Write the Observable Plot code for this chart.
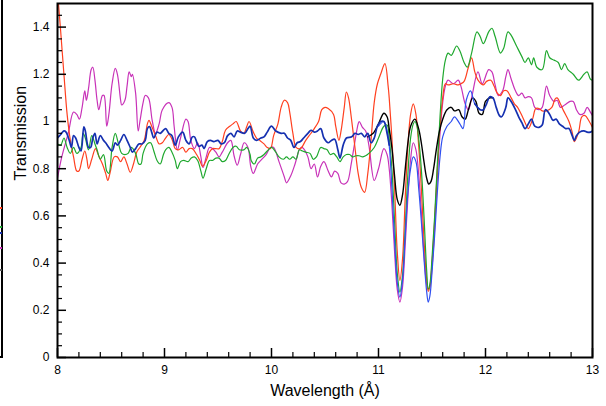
<!DOCTYPE html>
<html>
<head>
<meta charset="utf-8">
<script src="https://cdn.jsdelivr.net/npm/d3@7"></script>
<script src="https://cdn.jsdelivr.net/npm/@observablehq/plot@0.6"></script>
<style>
  html, body { margin: 0; padding: 0; background: #fff; }
  #wrap { position: relative; width: 606px; height: 406px; }
  #wrap svg { display: block; }
  .edge { position: absolute; }
</style>
</head>
<body>
<div id="wrap">
  <div class="edge" style="left:1px;top:0;width:2px;height:358px;background:#000"></div>
  <div class="edge" style="left:0;top:356px;width:3px;height:2px;background:#000"></div>
  <div class="edge" style="left:0;top:207px;width:2px;height:2px;background:#ff4020"></div>
  <div class="edge" style="left:0;top:226px;width:2px;height:2px;background:#22aa33"></div>
  <div class="edge" style="left:0;top:232px;width:2px;height:2px;background:#1530b0"></div>
  <div class="edge" style="left:0;top:247px;width:2px;height:2px;background:#c832b8"></div>
  <div class="edge" style="left:0;top:269px;width:2px;height:2px;background:#555"></div>
</div>
<script>
// ---- data: [wavelength (Å), transmission] ----
const magenta = [[8.00,0.76],[8.04,0.85],[8.10,0.95],[8.15,1.04],[8.18,1.03],[8.205,1.01],[8.23,1.06],[8.255,1.13],[8.27,1.09],[8.29,1.14],[8.315,1.22],[8.33,1.23],[8.35,1.175],[8.37,1.09],[8.386,1.05],[8.42,1.11],[8.435,1.11],[8.46,0.98],[8.48,1.03],[8.51,1.16],[8.54,1.225],[8.56,1.20],[8.59,1.09],[8.60,1.07],[8.63,1.09],[8.65,1.15],[8.67,1.21],[8.69,1.19],[8.70,1.20],[8.73,1.12],[8.754,0.96],[8.77,1.00],[8.80,1.08],[8.82,1.11],[8.85,1.10],[8.885,1.005],[8.916,0.95],[8.95,0.99],[8.98,1.05],[9.04,1.08],[9.07,1.06],[9.09,0.98],[9.12,0.88],[9.15,0.93],[9.20,1.01],[9.22,1.00],[9.246,0.92],[9.28,0.885],[9.31,0.91],[9.34,0.85],[9.36,0.805],[9.39,0.85],[9.42,0.89],[9.45,0.885],[9.48,0.87],[9.51,0.85],[9.54,0.87],[9.59,0.91],[9.62,0.92],[9.65,0.855],[9.68,0.815],[9.71,0.86],[9.745,0.91],[9.78,0.89],[9.806,0.81],[9.83,0.78],[9.87,0.82],[9.90,0.835],[9.95,0.86],[9.99,0.89],[10.02,0.89],[10.07,0.83],[10.12,0.765],[10.14,0.74],[10.18,0.77],[10.22,0.82],[10.26,0.88],[10.28,0.89],[10.30,0.885],[10.34,0.85],[10.37,0.80],[10.40,0.82],[10.43,0.765],[10.46,0.81],[10.49,0.83],[10.53,0.79],[10.56,0.765],[10.59,0.79],[10.62,0.78],[10.65,0.74],[10.68,0.735],[10.71,0.745],[10.745,0.82],[10.776,0.905],[10.81,0.99],[10.82,1.00],[10.85,0.975],[10.88,0.96],[10.91,0.90],[10.96,0.75],[11.00,0.80],[11.05,0.885],[11.08,0.86],[11.10,0.80],[11.125,0.65],[11.15,0.45],[11.175,0.29],[11.20,0.235],[11.225,0.30],[11.25,0.48],[11.275,0.68],[11.30,0.84],[11.325,0.91],[11.35,0.88],[11.375,0.78],[11.40,0.62],[11.425,0.44],[11.45,0.31],[11.465,0.29],[11.48,0.30],[11.50,0.38],[11.525,0.55],[11.55,0.76],[11.575,0.95],[11.60,1.08],[11.625,1.15],[11.65,1.175],[11.70,1.16],[11.745,1.175],[11.77,1.15],[11.81,1.075],[11.84,1.05],[11.87,1.10],[11.93,1.21],[11.97,1.16],[12.03,1.22],[12.06,1.21],[12.09,1.155],[12.12,1.11],[12.16,1.13],[12.19,1.19],[12.21,1.22],[12.24,1.18],[12.28,1.13],[12.31,1.11],[12.34,1.12],[12.37,1.10],[12.40,1.105],[12.43,1.10],[12.46,1.06],[12.50,1.05],[12.53,1.06],[12.57,1.15],[12.60,1.11],[12.64,1.085],[12.67,1.09],[12.70,1.06],[12.74,1.07],[12.79,1.085],[12.82,1.085],[12.85,1.05],[12.88,1.03],[12.92,1.035],[12.95,1.06],[12.98,1.04],[13.00,1.025]];

const red = [[8.00,1.55],[8.03,1.38],[8.06,1.20],[8.09,1.03],[8.12,0.92],[8.15,0.85],[8.18,0.79],[8.20,0.79],[8.23,0.84],[8.255,0.875],[8.275,0.84],[8.29,0.80],[8.32,0.84],[8.355,0.885],[8.38,0.86],[8.42,0.82],[8.45,0.78],[8.47,0.75],[8.49,0.78],[8.53,0.85],[8.56,0.85],[8.59,0.83],[8.62,0.85],[8.65,0.82],[8.68,0.785],[8.71,0.82],[8.74,0.87],[8.77,0.89],[8.81,0.92],[8.84,0.99],[8.855,1.005],[8.88,0.98],[8.92,0.935],[8.95,0.905],[8.98,0.91],[9.01,0.93],[9.04,0.945],[9.07,0.925],[9.10,0.885],[9.13,0.88],[9.17,0.89],[9.20,0.87],[9.23,0.885],[9.26,0.885],[9.30,0.86],[9.33,0.835],[9.355,0.81],[9.39,0.835],[9.42,0.87],[9.45,0.885],[9.48,0.885],[9.51,0.885],[9.54,0.915],[9.57,0.963],[9.61,0.98],[9.64,0.99],[9.67,1.0],[9.71,0.96],[9.74,0.95],[9.77,0.98],[9.79,1.0],[9.83,0.955],[9.86,0.93],[9.89,0.92],[9.93,0.905],[9.96,0.89],[9.99,0.885],[10.02,0.94],[10.06,0.99],[10.09,1.06],[10.12,1.09],[10.15,1.08],[10.17,1.04],[10.20,0.95],[10.23,0.89],[10.27,0.885],[10.32,0.92],[10.36,0.945],[10.40,0.97],[10.44,1.0],[10.47,1.05],[10.50,1.06],[10.53,1.055],[10.58,1.03],[10.60,0.98],[10.63,0.92],[10.65,0.96],[10.68,1.06],[10.70,1.125],[10.72,1.10],[10.745,1.02],[10.78,0.89],[10.81,0.78],[10.84,0.72],[10.87,0.70],[10.90,0.78],[10.93,0.92],[10.96,1.08],[10.99,1.16],[11.02,1.20],[11.06,1.245],[11.09,1.15],[11.10,1.10],[11.125,0.93],[11.15,0.72],[11.175,0.45],[11.20,0.327],[11.225,0.42],[11.25,0.68],[11.275,0.90],[11.30,1.03],[11.325,1.075],[11.35,1.03],[11.375,0.90],[11.40,0.72],[11.425,0.50],[11.45,0.33],[11.465,0.28],[11.48,0.30],[11.50,0.40],[11.525,0.58],[11.55,0.80],[11.575,0.98],[11.60,1.10],[11.625,1.16],[11.65,1.155],[11.70,1.16],[11.745,1.155],[11.77,1.16],[11.80,1.17],[11.84,1.23],[11.87,1.27],[11.90,1.21],[11.93,1.175],[11.98,1.155],[12.01,1.17],[12.05,1.175],[12.08,1.15],[12.11,1.12],[12.14,1.11],[12.17,1.13],[12.20,1.13],[12.24,1.10],[12.27,1.075],[12.30,1.06],[12.34,1.025],[12.37,0.995],[12.40,0.97],[12.44,1.01],[12.47,1.055],[12.50,1.055],[12.53,1.045],[12.57,1.045],[12.62,1.06],[12.65,1.095],[12.67,1.10],[12.70,1.075],[12.73,1.045],[12.78,1.0],[12.81,0.955],[12.83,0.915],[12.87,0.955],[12.90,1.02],[12.93,1.025],[12.97,1.0],[13.00,0.975]];

const green = [[8.00,0.905],[8.03,0.90],[8.06,0.93],[8.09,0.89],[8.12,0.865],[8.15,0.89],[8.18,0.865],[8.22,0.89],[8.24,0.95],[8.26,0.93],[8.29,0.88],[8.32,0.94],[8.35,0.905],[8.37,0.88],[8.40,0.84],[8.43,0.86],[8.46,0.79],[8.48,0.78],[8.51,0.89],[8.54,0.95],[8.57,0.905],[8.60,0.865],[8.63,0.86],[8.66,0.865],[8.69,0.89],[8.73,0.865],[8.76,0.82],[8.78,0.82],[8.80,0.865],[8.84,0.905],[8.87,0.91],[8.90,0.875],[8.93,0.835],[8.96,0.82],[8.99,0.86],[9.01,0.88],[9.04,0.89],[9.07,0.87],[9.10,0.835],[9.12,0.80],[9.15,0.83],[9.18,0.835],[9.22,0.83],[9.25,0.845],[9.28,0.85],[9.31,0.835],[9.34,0.79],[9.36,0.76],[9.39,0.80],[9.42,0.835],[9.45,0.835],[9.48,0.845],[9.51,0.845],[9.54,0.83],[9.57,0.835],[9.60,0.86],[9.64,0.89],[9.67,0.895],[9.70,0.88],[9.74,0.88],[9.77,0.89],[9.80,0.86],[9.81,0.835],[9.84,0.82],[9.87,0.845],[9.90,0.85],[9.93,0.86],[9.96,0.875],[10.00,0.89],[10.04,0.87],[10.07,0.85],[10.11,0.84],[10.14,0.85],[10.17,0.84],[10.20,0.85],[10.23,0.84],[10.26,0.88],[10.29,0.875],[10.32,0.87],[10.36,0.865],[10.39,0.84],[10.42,0.85],[10.46,0.89],[10.49,0.885],[10.52,0.88],[10.55,0.86],[10.58,0.865],[10.61,0.85],[10.64,0.83],[10.67,0.85],[10.70,0.86],[10.73,0.86],[10.76,0.85],[10.79,0.855],[10.82,0.855],[10.85,0.85],[10.88,0.855],[10.91,0.865],[10.96,0.89],[11.00,0.93],[11.05,0.98],[11.08,0.985],[11.10,0.93],[11.125,0.80],[11.15,0.58],[11.175,0.36],[11.20,0.277],[11.225,0.35],[11.25,0.55],[11.275,0.78],[11.30,0.93],[11.325,0.99],[11.34,1.0],[11.36,0.98],[11.375,0.93],[11.40,0.80],[11.425,0.60],[11.45,0.37],[11.465,0.29],[11.48,0.31],[11.50,0.42],[11.525,0.60],[11.55,0.82],[11.575,1.02],[11.60,1.18],[11.625,1.26],[11.65,1.29],[11.68,1.28],[11.73,1.32],[11.76,1.30],[11.80,1.25],[11.83,1.23],[11.87,1.29],[11.92,1.38],[11.95,1.36],[11.98,1.33],[12.03,1.38],[12.06,1.395],[12.09,1.36],[12.14,1.29],[12.17,1.31],[12.21,1.38],[12.24,1.365],[12.29,1.32],[12.34,1.275],[12.37,1.25],[12.40,1.27],[12.43,1.24],[12.45,1.27],[12.48,1.23],[12.53,1.22],[12.57,1.30],[12.60,1.27],[12.64,1.26],[12.68,1.25],[12.71,1.22],[12.74,1.245],[12.77,1.22],[12.82,1.20],[12.87,1.175],[12.92,1.20],[12.95,1.21],[12.98,1.18],[13.00,1.175]];

const black = [[10.90,0.935],[10.95,0.95],[11.00,0.99],[11.05,1.035],[11.08,1.02],[11.10,0.97],[11.125,0.89],[11.15,0.77],[11.175,0.67],[11.20,0.645],[11.225,0.69],[11.25,0.80],[11.275,0.91],[11.30,0.98],[11.34,1.01],[11.375,0.97],[11.40,0.91],[11.425,0.83],[11.45,0.76],[11.47,0.735],[11.49,0.745],[11.515,0.80],[11.54,0.88],[11.57,0.96],[11.60,1.01],[11.64,1.05],[11.68,1.06],[11.71,1.045],[11.75,1.05],[11.78,1.02],[11.81,1.01],[11.84,1.05],[11.88,1.10],[11.91,1.085],[11.94,1.035],[11.97,1.03],[12.00,1.085],[12.04,1.10],[12.07,1.10]];

const blue = [[11.00,0.98],[11.05,1.0],[11.08,0.96],[11.10,0.90],[11.125,0.72],[11.15,0.50],[11.175,0.32],[11.20,0.256],[11.225,0.33],[11.25,0.52],[11.275,0.70],[11.30,0.80],[11.325,0.85],[11.35,0.83],[11.375,0.72],[11.40,0.58],[11.425,0.42],[11.45,0.28],[11.465,0.235],[11.48,0.26],[11.50,0.36],[11.525,0.52],[11.55,0.70],[11.575,0.85],[11.60,0.935],[11.64,0.98],[11.68,1.0],[11.71,1.02],[11.76,0.99],[11.79,0.97],[11.82,1.09],[11.86,1.13],[11.90,1.075],[11.95,1.05]];

const navy = [[8.00,0.93],[8.03,0.945],[8.06,0.96],[8.08,0.955],[8.11,0.92],[8.13,0.89],[8.15,0.94],[8.17,0.93],[8.20,0.89],[8.22,0.875],[8.246,0.977],[8.26,0.96],[8.29,0.89],[8.31,0.89],[8.33,0.93],[8.35,0.95],[8.37,0.905],[8.40,0.94],[8.43,0.92],[8.45,0.91],[8.48,0.89],[8.51,0.875],[8.54,0.91],[8.56,0.90],[8.59,0.92],[8.62,0.945],[8.65,0.92],[8.68,0.89],[8.70,0.87],[8.73,0.885],[8.76,0.905],[8.79,0.905],[8.82,0.92],[8.84,0.97],[8.86,0.978],[8.88,0.955],[8.90,0.93],[8.93,0.955],[8.96,0.95],[9.01,0.97],[9.04,0.95],[9.07,0.94],[9.10,0.90],[9.13,0.935],[9.17,0.955],[9.20,0.92],[9.23,0.905],[9.26,0.935],[9.28,0.935],[9.32,0.895],[9.35,0.90],[9.37,0.885],[9.40,0.915],[9.43,0.92],[9.46,0.915],[9.50,0.92],[9.53,0.905],[9.56,0.91],[9.59,0.94],[9.62,0.95],[9.65,0.935],[9.68,0.96],[9.71,0.955],[9.75,0.95],[9.78,0.97],[9.80,0.98],[9.83,0.93],[9.86,0.92],[9.90,0.93],[9.93,0.935],[9.96,0.955],[10.00,0.98],[10.04,0.96],[10.09,0.95],[10.12,0.95],[10.15,0.93],[10.18,0.92],[10.21,0.89],[10.24,0.91],[10.27,0.915],[10.30,0.93],[10.34,0.95],[10.37,0.963],[10.40,0.955],[10.43,0.96],[10.46,0.97],[10.49,0.93],[10.53,0.91],[10.56,0.92],[10.59,0.925],[10.62,0.88],[10.64,0.845],[10.67,0.90],[10.70,0.93],[10.75,0.935],[10.78,0.95],[10.81,0.945],[10.84,0.95],[10.87,0.935],[10.90,0.95],[10.93,0.91],[10.96,0.93],[10.99,0.98],[11.02,1.0],[11.05,1.0],[11.08,0.95],[11.10,0.90],[11.5,NaN],[11.90,1.075],[11.95,1.05],[11.98,1.05],[12.01,1.075],[12.04,1.105],[12.07,1.10],[12.10,1.06],[12.13,1.025],[12.15,1.02],[12.19,1.06],[12.21,1.10],[12.24,1.085],[12.28,1.05],[12.31,1.02],[12.34,0.995],[12.37,0.97],[12.40,0.99],[12.43,1.01],[12.46,0.98],[12.50,0.975],[12.53,0.985],[12.56,1.05],[12.60,1.03],[12.63,1.005],[12.66,1.01],[12.69,0.99],[12.72,0.98],[12.75,0.97],[12.78,0.97],[12.81,0.94],[12.83,0.92],[12.85,0.94],[12.88,0.955],[12.92,0.96],[12.95,0.955],[12.98,0.955],[13.00,0.96]];

const xMajor = [8, 9, 10, 11, 12, 13];
const yMajor = [0, 0.2, 0.4, 0.6, 0.8, 1, 1.2, 1.4];
const xLabel = "Wavelength (Å)";
const yLabel = "Transmission";

const series = [
  {data: magenta, color: "#c832b8", width: 1.2},
  {data: red, color: "#ff4020", width: 1.2},
  {data: green, color: "#1fa82e", width: 1.2},
  {data: black, color: "#000000", width: 1.4},
  {data: blue, color: "#3050f0", width: 1.2},
  {data: navy, color: "#1530b0", width: 1.7}
];

const xMinor = d3.range(8, 13.0001, 0.2).map(v => +v.toFixed(2)).filter(v => !xMajor.includes(v));
const yMinor = d3.range(0, 1.4501, 0.05).map(v => +v.toFixed(2)).filter(v => !yMajor.includes(v));
const fmt = d => String(+d.toFixed(2));

const chart = Plot.plot({
  width: 606, height: 406,
  marginLeft: 57, marginRight: 14, marginTop: 3, marginBottom: 49,
  x: {domain: [8, 13]},
  y: {domain: [0, 1.5]},
  style: {fontFamily: "'Liberation Sans', Arial, Helvetica, sans-serif", fontSize: "12px", color: "#000", background: "transparent"},
  marks: [
    ...series.map(s => Plot.line(s.data, {x: d => d[0], y: d => d[1], stroke: s.color, strokeWidth: s.width, curve: "catmull-rom", clip: true})),
    Plot.frame({stroke: "#000", strokeWidth: 2}),
    Plot.axisY(yMajor, {tickSize: -9, fill: "none", strokeWidth: 1.5, label: null}),
    Plot.axisY(yMinor, {tickSize: -5, fill: "none", strokeWidth: 1.2, label: null}),
    Plot.axisY(yMajor, {tickSize: 0, tickPadding: 8, tickFormat: fmt, label: null, fontSize: 12}),
    Plot.axisX(xMajor, {tickSize: -9, fill: "none", strokeWidth: 1.5, label: null}),
    Plot.axisX(xMinor, {tickSize: -5, fill: "none", strokeWidth: 1.2, label: null}),
    Plot.axisX(xMajor, {tickSize: 0, tickPadding: 8, tickFormat: fmt, label: null, fontSize: 12}),
    Plot.text([yLabel], {frameAnchor: "left", dx: -37, rotate: -90, text: d => d, fontSize: 16}),
    Plot.text([xLabel], {frameAnchor: "bottom", dy: 38, text: d => d, fontSize: 16})
  ]
});
document.getElementById("wrap").prepend(chart);
</script>
</body>
</html>
